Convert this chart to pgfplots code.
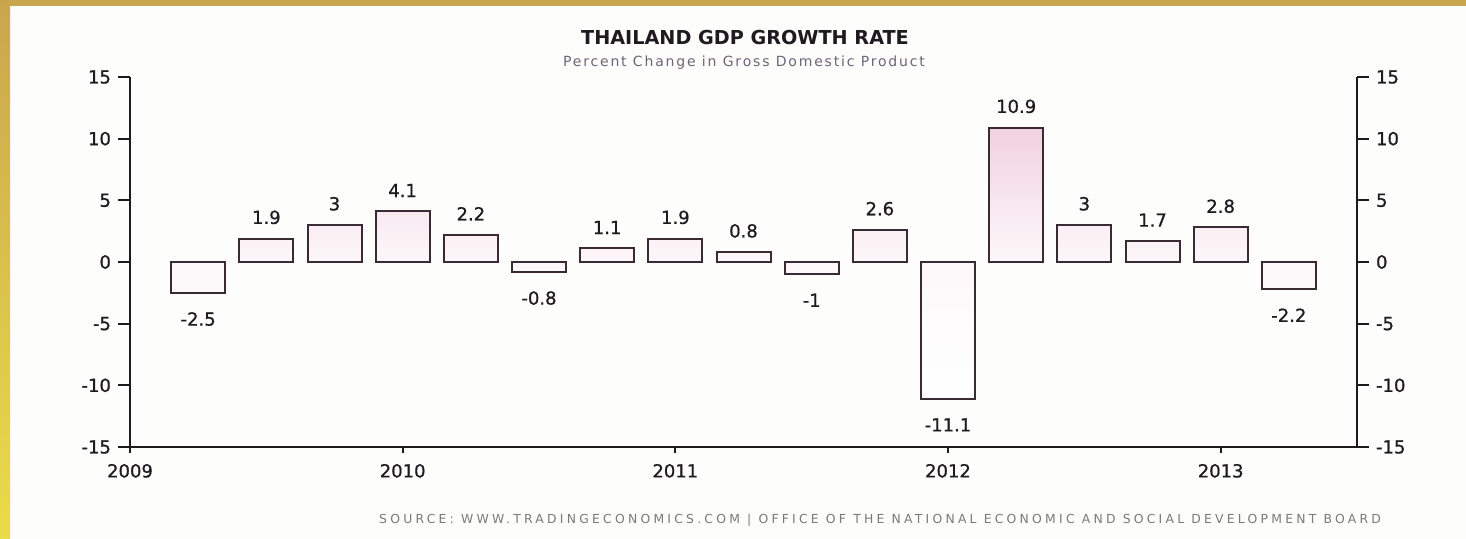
\documentclass[border=0pt]{standalone}
\usepackage{pgfplots}
\pgfplotsset{compat=1.18}
\usepackage{pgfplotstable}
\usepackage{fontspec}
\setmainfont{DejaVu Sans}
\newfontfamily\tickfont[FakeBold=0.8]{DejaVu Sans}
\definecolor{barline}{HTML}{3A2A34}
\definecolor{barpink}{HTML}{F0D2DF}
\definecolor{txt}{HTML}{1E1A20}
\definecolor{subt}{HTML}{6E6478}
\definecolor{src}{HTML}{7A7A7A}
\definecolor{gold}{HTML}{C9A64E}
\definecolor{yel}{HTML}{E9DC4A}
\definecolor{paper}{HTML}{FDFDFB}

\pgfplotstableread{
x y lab
2009.25 -2.5 -2.5
2009.50 1.9 1.9
2009.75 3.0 3
2010.00 4.1 4.1
2010.25 2.2 2.2
2010.50 -0.8 -0.8
2010.75 1.1 1.1
2011.00 1.9 1.9
2011.25 0.8 0.8
2011.50 -1.0 -1
2011.75 2.6 2.6
2012.00 -11.1 -11.1
2012.25 10.9 10.9
2012.50 3.0 3
2012.75 1.7 1.7
2013.00 2.8 2.8
2013.25 -2.2 -2.2
}\gdp

\tikzset{lbl/.style={font=\tickfont\fontsize{9}{10}\selectfont, text=txt, inner xsep=0pt}}

\pgfplotsset{
  common/.style={
    at={(65pt,46pt)}, anchor=south west, scale only axis,
    width=613.5pt, height=185pt,
    xmin=2009, xmax=2013.5, ymin=-15, ymax=15,
    ticklabel style={font=\tickfont\fontsize{9}{10}\selectfont, text=txt},
    xtick={2009,2010,2011,2012,2013},
    xticklabels={2009,2010,2011,2012,2013},
    ytick={-15,-10,-5,0,5,10,15},
    yticklabels={-15,-10,-5,0,5,10,15},
  },
  lines/.style={
    axis line style={-, line width=0.9pt, color=txt},
    tick style={line width=0.9pt, color=txt},
    tick align=outside,
  },
}

\begin{document}
\begin{tikzpicture}
\useasboundingbox (0pt,0pt) rectangle (733pt,269.5pt);
\fill[paper] (0pt,0pt) rectangle (733pt,269.5pt);
\shade[bottom color=yel, top color=gold] (0pt,0pt) rectangle (5pt,269.5pt);
\fill[gold] (0pt,266.5pt) rectangle (733pt,269.5pt);

\node[font=\bfseries\fontsize{9.6}{11}\selectfont, text=txt] at (372.5pt,250.5pt) {THAILAND GDP GROWTH RATE};
\node[font=\fontsize{7}{8}\selectfont\addfontfeatures{LetterSpace=13}, text=subt] at (372pt,238pt) {Percent Change in Gross Domestic Product};
\node[font=\fontsize{6.2}{7}\selectfont\addfontfeatures{LetterSpace=26}, text=src, anchor=east] at (694pt,9.5pt) {SOURCE: WWW.TRADINGECONOMICS.COM | OFFICE OF THE NATIONAL ECONOMIC AND SOCIAL DEVELOPMENT BOARD};

% bars + x axis
\begin{axis}[common,
  axis x line*=bottom, hide y axis, lines,
  major tick length=3pt,
  xticklabel style={yshift=-2pt},
  clip=false]
\addplot[ybar, bar width=27pt, draw=barline, line width=1pt,
  top color=barpink, bottom color=white, middle color=white!85!barpink]
  table[x=x, y=y] {\gdp};
% value labels, positive bars above
\addplot[draw=none, mark=none, restrict y to domain=0:100,
  point meta=explicit symbolic, nodes near coords,
  every node near coord/.append style={lbl, anchor=south, inner ysep=7pt}]
  table[x=x, y=y, meta=lab] {\gdp};
% value labels, negative bars below
\addplot[draw=none, mark=none, restrict y to domain=-100:0,
  point meta=explicit symbolic, nodes near coords,
  every node near coord/.append style={lbl, anchor=north, inner ysep=9.5pt}]
  table[x=x, y=y, meta=lab] {\gdp};
\end{axis}
% left y axis
\begin{axis}[common, axis y line*=left, hide x axis, lines, major tick length=6pt]
\end{axis}
% right y axis
\begin{axis}[common, axis y line*=right, hide x axis, lines, major tick length=6pt]
\end{axis}
\end{tikzpicture}
\end{document}
